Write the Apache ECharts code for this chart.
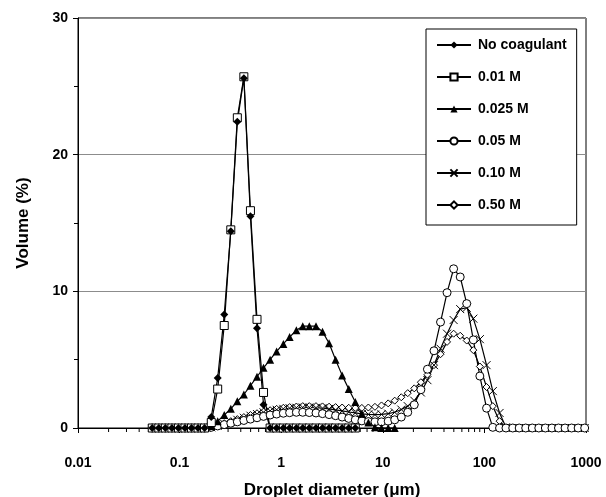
<!DOCTYPE html>
<html>
<head>
<meta charset="UTF-8">
<title>Droplet size distribution</title>
<script src="https://cdn.jsdelivr.net/npm/echarts@6/dist/echarts.min.js"></script>
<style>
html, body { margin: 0; padding: 0; background: #fff; }
#main { width: 606px; height: 497px; }
</style>
</head>
<body>
<div id="main"></div>
<script>
// size classes (um), log spaced
var diameters = [0.0538, 0.0624, 0.0724, 0.0840, 0.0974, 0.113, 0.131, 0.152, 0.176, 0.205,
  0.237, 0.275, 0.319, 0.370, 0.429, 0.498, 0.578, 0.670, 0.778, 0.902,
  1.05, 1.21, 1.41, 1.63, 1.89, 2.20, 2.55, 2.96, 3.43, 3.98,
  4.62, 5.36, 6.22, 7.21, 8.37, 9.71, 11.3, 13.1, 15.2, 17.6,
  20.4, 23.7, 27.5, 31.9, 37.0, 42.9, 49.8, 57.8, 67.0, 77.8,
  90.2, 105, 121, 141, 163, 190, 220, 255, 296, 343,
  398, 462, 536, 622, 722, 837, 971];

var noCoagulant = [0, 0, 0, 0, 0, 0, 0, 0, 0, 0.8,
  3.65, 8.3, 14.4, 22.4, 25.6, 15.5, 7.3, 1.7, 0, 0,
  0, 0, 0, 0, 0, 0, 0, 0, 0, 0,
  0, 0];
var m001 = [0, 0, 0, 0, 0, 0, 0, 0, 0, 0.4,
  2.85, 7.5, 14.5, 22.7, 25.7, 15.9, 7.95, 2.6, 0, 0,
  0, 0, 0, 0, 0, 0, 0, 0, 0, 0,
  0, 0];
var m0025 = [0, 0, 0, 0, 0, 0, 0, 0, 0, 0.15,
  0.5, 0.95, 1.4, 1.95, 2.45, 3.1, 3.75, 4.4, 5.0, 5.6,
  6.15, 6.65, 7.15, 7.45, 7.45, 7.45, 7.05, 6.2, 5.0, 3.85,
  2.85, 1.9, 1.05, 0.4, 0.05, 0, 0, 0];
var m005 = [0, 0, 0, 0, 0, 0, 0, 0, 0, 0.05,
  0.15, 0.25, 0.35, 0.45, 0.55, 0.65, 0.75, 0.85, 0.95, 1.02,
  1.08, 1.12, 1.15, 1.15, 1.13, 1.1, 1.05, 0.98, 0.9, 0.8,
  0.7, 0.6, 0.52, 0.47, 0.45, 0.45, 0.5, 0.6, 0.8, 1.15,
  1.7, 2.8, 4.3, 5.65, 7.75, 9.9, 11.65, 11.05, 9.1, 6.45,
  3.8, 1.45, 0.05, 0, 0, 0, 0, 0, 0, 0,
  0, 0, 0, 0, 0, 0, 0];
var m010 = [0, 0, 0, 0, 0, 0, 0, 0, 0, 0.05,
  0.15, 0.3, 0.45, 0.6, 0.75, 0.9, 1.02, 1.15, 1.25, 1.33,
  1.4, 1.45, 1.48, 1.5, 1.5, 1.48, 1.45, 1.4, 1.32, 1.25,
  1.17, 1.1, 1.03, 1.0, 0.98, 1.0, 1.05, 1.15, 1.35, 1.6,
  2.0, 2.6, 3.5, 4.6, 5.8, 6.9, 7.9, 8.7, 8.8, 8.0,
  6.5, 4.6, 2.7, 1.1, 0.05, 0, 0, 0, 0, 0,
  0, 0, 0, 0, 0, 0, 0];
var m050 = [0, 0, 0, 0, 0, 0, 0, 0, 0, 0.05,
  0.2, 0.35, 0.5, 0.65, 0.8, 0.95, 1.08, 1.2, 1.3, 1.4,
  1.48, 1.53, 1.57, 1.6, 1.6, 1.6, 1.58, 1.56, 1.53, 1.5,
  1.48, 1.47, 1.47, 1.5, 1.55, 1.65, 1.8, 2.0, 2.25, 2.55,
  2.9, 3.35, 3.9, 4.6, 5.4, 6.3, 6.9, 6.75, 6.4, 5.7,
  4.5, 3.0, 1.6, 0.5, 0, 0, 0, 0, 0, 0,
  0, 0, 0, 0, 0, 0, 0];

var xTickLabels = ['0.01', '0.1', '1', '10', '100', '1000'];
var minorTicks = [0.02, 0.03, 0.04, 0.05, 0.06, 0.07, 0.08, 0.09,
  0.2, 0.3, 0.4, 0.5, 0.6, 0.7, 0.8, 0.9,
  2, 3, 4, 5, 6, 7, 8, 9,
  20, 30, 40, 50, 60, 70, 80, 90,
  200, 300, 400, 500, 600, 700, 800, 900];

var FONT = 'Liberation Sans, Arial, sans-serif';

function pairs(vals) {
  return vals.map(function (v, i) { return [diameters[i], v]; });
}

function lineSeries(name, vals, symbol, size, hollow) {
  return {
    name: name,
    type: 'line',
    data: pairs(vals),
    symbol: symbol,
    symbolSize: size,
    showAllSymbol: true,
    lineStyle: { color: '#000', width: 1.2 },
    itemStyle: hollow ? { color: '#fff', borderColor: '#000', borderWidth: 1 }
                      : { color: '#000', borderColor: '#000', borderWidth: 0 },
    emphasis: { disabled: true },
    animation: false
  };
}

var chart = echarts.init(document.getElementById('main'));

var option = {
  backgroundColor: '#fff',
  animation: false,
  grid: {
    left: 78, right: 20, top: 18, bottom: 69,
    outerBoundsMode: 'none',
    containLabel: false,
    show: true, borderColor: '#000', borderWidth: 1
  },
  legend: {
    data: ['No coagulant', '0.01 M', '0.025 M', '0.05 M', '0.10 M', '0.50 M'],
    orient: 'vertical',
    left: 426, top: 29,
    padding: [9, 10, 13, 10],
    itemWidth: 34, itemHeight: 9, itemGap: 18,
    borderColor: '#000', borderWidth: 1,
    backgroundColor: '#fff',
    selectedMode: false,
    textStyle: { fontFamily: FONT, fontWeight: 'bold', fontSize: 14, color: '#000', padding: [0, 0, 0, 2] }
  },
  xAxis: {
    type: 'log',
    logBase: 10,
    min: 0.01, max: 1000,
    name: 'Droplet diameter (\u03bcm)',
    nameLocation: 'middle',
    nameGap: 54,
    nameTextStyle: { fontFamily: FONT, fontWeight: 'bold', fontSize: 17, color: '#000' },
    axisLine: { lineStyle: { color: '#000', width: 1 } },
    axisTick: { show: true, inside: false, length: 5, lineStyle: { color: '#000' } },
    splitLine: { show: false },
    axisLabel: {
      margin: 28,
      fontFamily: FONT, fontWeight: 'bold', fontSize: 14, color: '#000',
      formatter: function (v) {
        return xTickLabels[Math.round(Math.log10(v)) + 2];
      }
    }
  },
  yAxis: {
    type: 'value',
    min: 0, max: 30, interval: 10,
    name: 'Volume (%)',
    nameLocation: 'middle',
    nameGap: 46,
    nameTextStyle: { fontFamily: FONT, fontWeight: 'bold', fontSize: 17, color: '#000' },
    axisLine: { show: true, lineStyle: { color: '#000', width: 1 } },
    axisTick: { show: true, inside: false, length: 5, lineStyle: { color: '#000' } },
    minorTick: { show: true, splitNumber: 2, length: 4, lineStyle: { color: '#000' } },
    splitLine: { show: true, lineStyle: { color: '#8c8c8c', width: 1 } },
    axisLabel: { margin: 10, fontFamily: FONT, fontWeight: 'bold', fontSize: 14, color: '#000' }
  },
  series: [
    {
      type: 'custom',
      name: 'minor',
      silent: true,
      clip: false,
      data: minorTicks.map(function (v) { return [v, 0]; }),
      renderItem: function (params, api) {
        var p = api.coord([api.value(0), 0]);
        return {
          type: 'line',
          shape: { x1: p[0], y1: p[1], x2: p[0], y2: p[1] + 4 },
          style: { stroke: '#000', lineWidth: 1 }
        };
      },
      animation: false
    },
    lineSeries('0.50 M', m050, 'diamond', 7, true),
    lineSeries('0.10 M', m010, 'path://M0,0L10,10M0,10L10,0', 8, true),
    lineSeries('0.05 M', m005, 'circle', 8, true),
    lineSeries('0.025 M', m0025, 'triangle', 8, false),
    lineSeries('0.01 M', m001, 'rect', 8, true),
    lineSeries('No coagulant', noCoagulant, 'diamond', 8, false)
  ]
};

chart.setOption(option);
</script>
</body>
</html>
